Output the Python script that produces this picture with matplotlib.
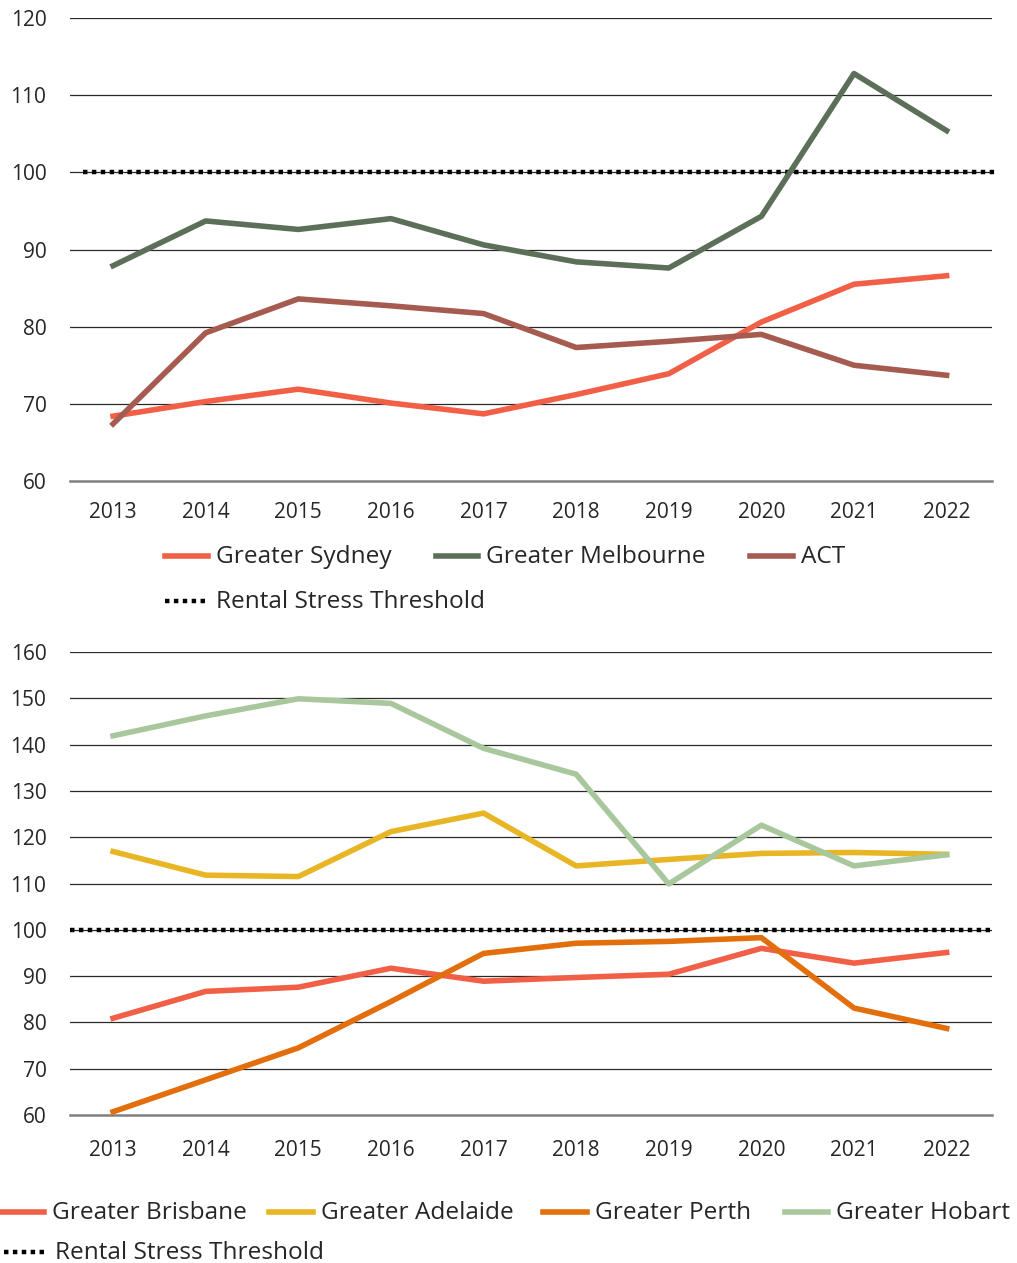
import matplotlib
matplotlib.use("Agg")
import matplotlib.pyplot as plt
from matplotlib.lines import Line2D

plt.rcParams['font.family'] = ['Open Sans', 'DejaVu Sans']

years = [2013, 2014, 2015, 2016, 2017, 2018, 2019, 2020, 2021, 2022]

# top panel
sydney = [68.4, 70.3, 71.9, 70.1, 68.7, 71.2, 73.9, 80.6, 85.5, 86.6]
melbourne = [87.9, 93.7, 92.6, 94.0, 90.6, 88.4, 87.6, 94.3, 112.8, 105.4]
act = [67.4, 79.2, 83.6, 82.7, 81.7, 77.3, 78.1, 79.0, 75.0, 73.7]

# bottom panel
brisbane = [80.9, 86.7, 87.6, 91.7, 88.9, 89.7, 90.4, 96.0, 92.8, 95.1]
adelaide = [116.9, 111.8, 111.5, 121.2, 125.2, 113.8, 115.2, 116.5, 116.7, 116.3]
perth = [60.7, 67.6, 74.5, 84.5, 94.9, 97.1, 97.5, 98.3, 83.1, 78.7]
hobart = [141.9, 146.2, 149.9, 148.9, 139.2, 133.6, 109.9, 122.6, 113.8, 116.2]

threshold = 100

top_ticks = [60, 70, 80, 90, 100, 110, 120]
bottom_ticks = [60, 70, 80, 90, 100, 110, 120, 130, 140, 150, 160]

c_syd = '#F15F47'
c_mel = '#5C6F58'
c_act = '#A55B4F'
c_bri = '#F15F47'
c_ade = '#E8B525'
c_per = '#E26E0C'
c_hob = '#A9C79C'

W, H = 1017, 1263
fig = plt.figure(figsize=(W / 100, H / 100), dpi=100)

LW = 4.0
FS = 15
LFS = 17.6
TXT = '#262626'


def setup(ax, ticks):
    ax.set_xlim(2012.535, 2022.49)
    ax.set_ylim(ticks[0], ticks[-1])
    ax.set_yticks(ticks)
    ax.set_xticks(years)
    ax.set_xticklabels([str(y) for y in years])
    for s in ['top', 'right', 'left']:
        ax.spines[s].set_visible(False)
    ax.spines['bottom'].set_color('#808080')
    ax.spines['bottom'].set_linewidth(1.8)
    ax.tick_params(length=0, labelsize=FS, colors=TXT)
    ax.tick_params(axis='y', pad=17)
    ax.tick_params(axis='x', pad=15)
    for t in ticks[1:]:
        ax.axhline(t, color='#2a2a2a', lw=0.9, zorder=1)


ax1 = fig.add_axes([70 / W, 1 - 481 / H, 922 / W, 463 / H])
setup(ax1, top_ticks)
ax1.axhline(threshold, xmin=0.014, xmax=1.003, color='black', lw=3.2,
            linestyle=(0, (1, 1)), dash_capstyle='butt', zorder=2, clip_on=False)
ax1.plot(years, sydney, color=c_syd, lw=LW, zorder=3)
ax1.plot(years, melbourne, color=c_mel, lw=LW, zorder=3)
ax1.plot(years, act, color=c_act, lw=LW, zorder=3)

ax2 = fig.add_axes([70 / W, 1 - 1115 / H, 922 / W, 463 / H])
setup(ax2, bottom_ticks)
ax2.tick_params(axis='x', pad=18)
ax2.axhline(threshold, color='black', lw=3.2,
            linestyle=(0, (1, 1)), dash_capstyle='butt', zorder=2)
ax2.plot(years, brisbane, color=c_bri, lw=LW, zorder=3)
ax2.plot(years, adelaide, color=c_ade, lw=LW, zorder=3)
ax2.plot(years, perth, color=c_per, lw=LW, zorder=3)
ax2.plot(years, hobart, color=c_hob, lw=LW, zorder=3)


def legend_item(x0, x1, y, label, color, dotted=False):
    # handle + text placed in figure pixels
    ls = (0, (1, 1)) if dotted else '-'
    lw = 3.2 if dotted else LW
    fig.add_artist(Line2D([x0 / W, x1 / W], [1 - y / H, 1 - y / H], color=color,
                          lw=lw, linestyle=ls, dash_capstyle='butt',
                          transform=fig.transFigure))
    fig.text((x1 + 8) / W, 1 - (y + 1) / H, label, fontsize=LFS, color=TXT,
             va='center', ha='left')


legend_item(165, 208, 556, 'Greater Sydney', c_syd)
legend_item(436, 478, 556, 'Greater Melbourne', c_mel)
legend_item(750, 793, 556, 'ACT', c_act)
legend_item(165, 208, 601, 'Rental Stress Threshold', 'black', dotted=True)

legend_item(0, 44, 1212, 'Greater Brisbane', c_bri)
legend_item(269, 313, 1212, 'Greater Adelaide', c_ade)
legend_item(543, 587, 1212, 'Greater Perth', c_per)
legend_item(785, 828, 1212, 'Greater Hobart', c_hob)
legend_item(4, 47, 1252, 'Rental Stress Threshold', 'black', dotted=True)

fig.savefig('out.png', dpi=100)
